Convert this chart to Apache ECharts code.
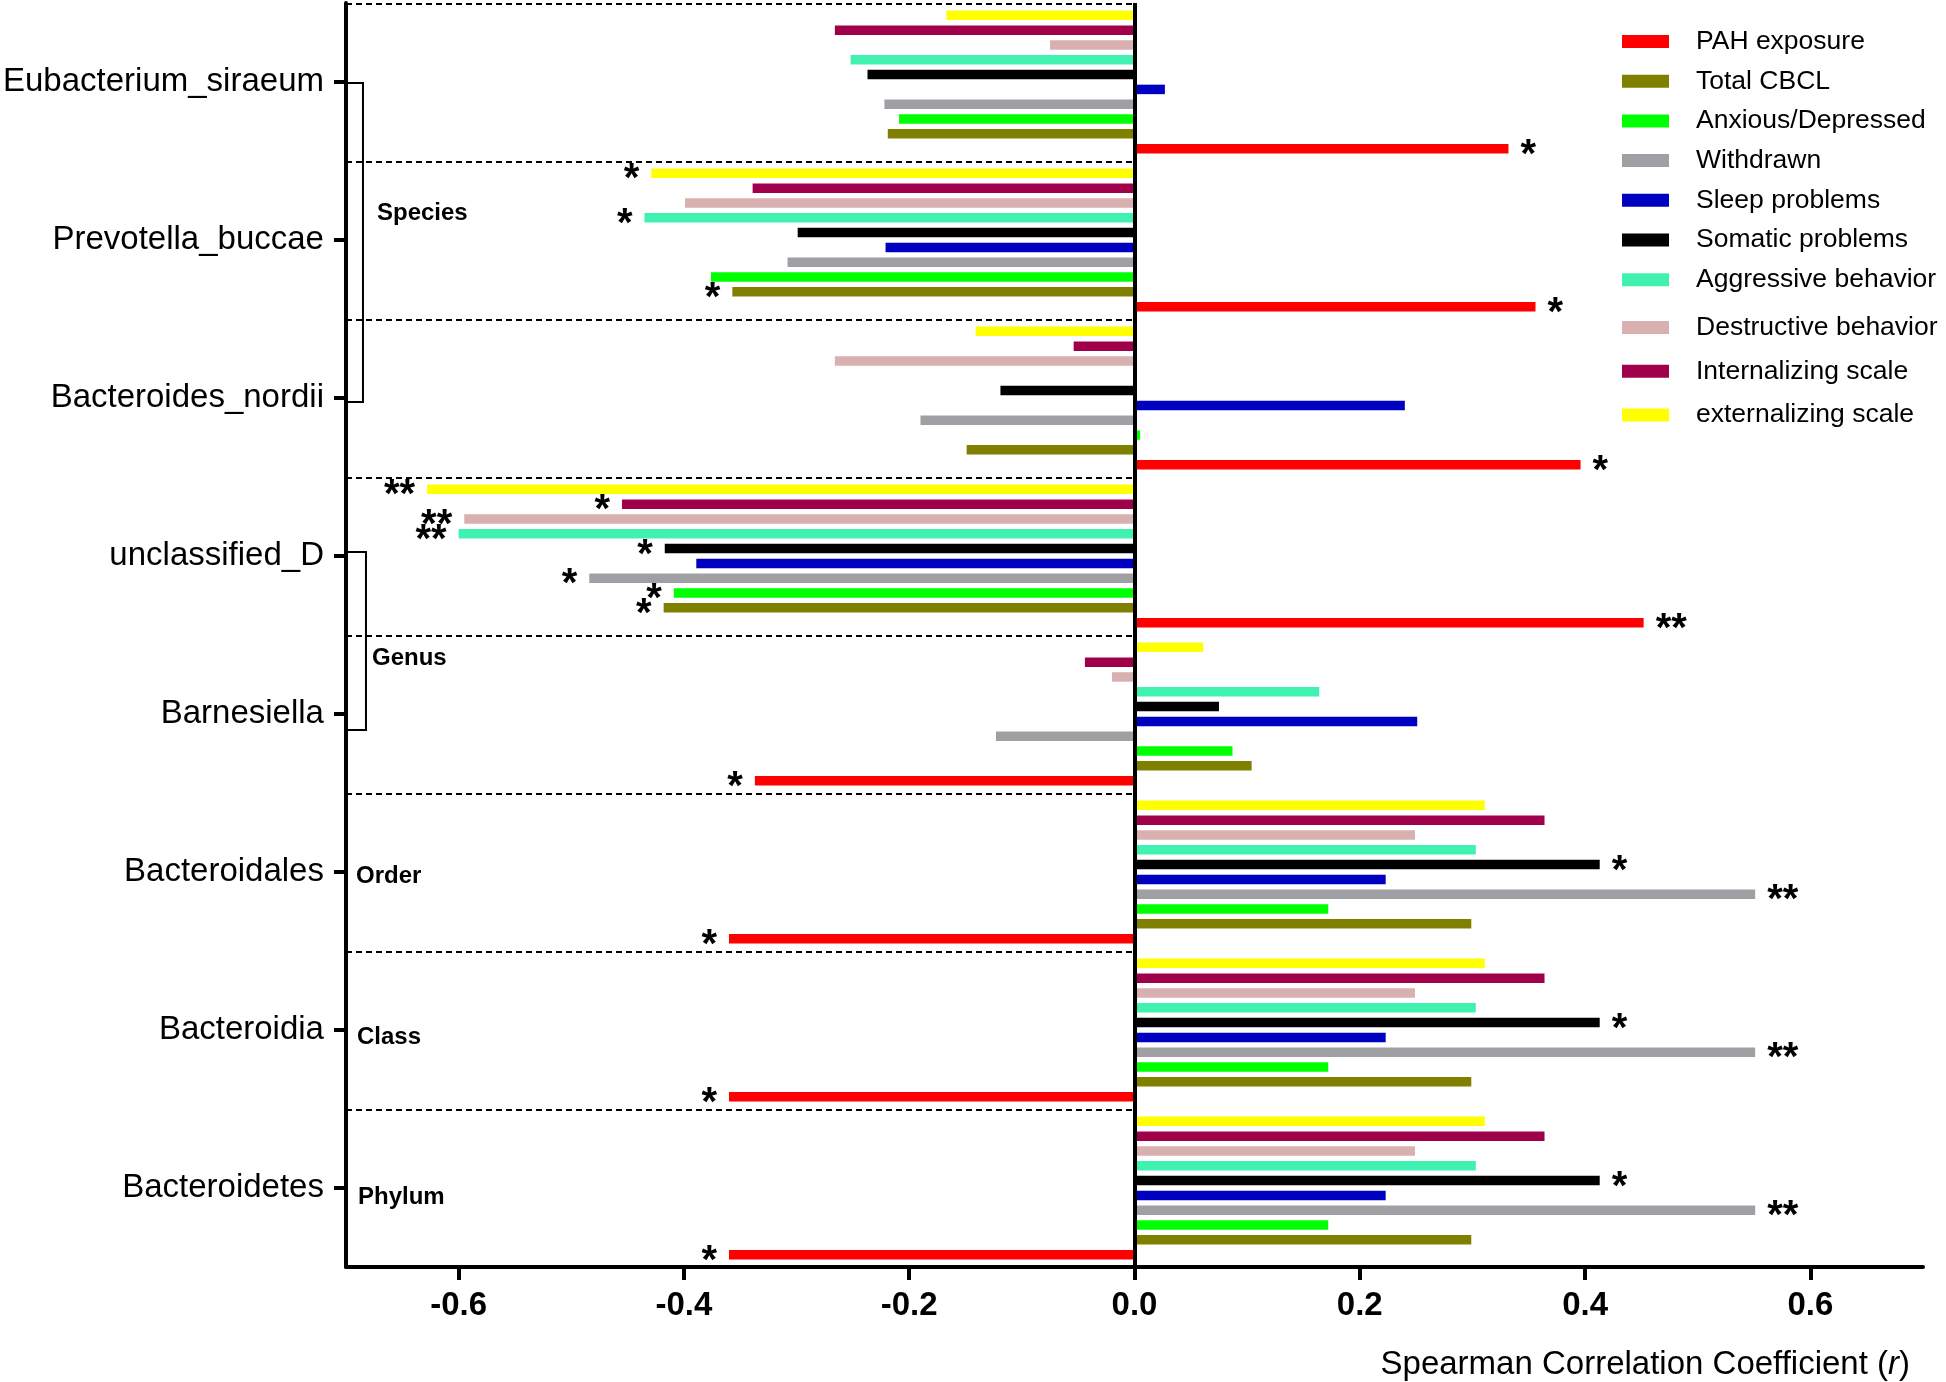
<!DOCTYPE html>
<html><head><meta charset="utf-8">
<script src="https://cdn.jsdelivr.net/npm/echarts@6/dist/echarts.min.js"></script>
<style>html,body{margin:0;padding:0;background:#fff}#c{width:1946px;height:1382px}</style>
</head><body><div id="c"></div>
<script>
// ---------- data ----------
const categories = ['Eubacterium_siraeum','Prevotella_buccae','Bacteroides_nordii','unclassified_D','Barnesiella','Bacteroidales','Bacteroidia','Bacteroidetes'];
const seriesNames = ['PAH exposure','Total CBCL','Anxious/Depressed','Withdrawn','Sleep problems','Somatic problems','Aggressive behavior','Destructive behavior','Internalizing scale','externalizing scale'];
const seriesColors = ['#FF0000','#808000','#00FF00','#A0A0A4','#0000C0','#000000','#40F2B0','#D8B0B0','#A0004A','#FFFF00'];

const pahExposure   = [0.332, 0.356, 0.396, 0.452, -0.337, -0.360, -0.360, -0.360];
const totalCBCL     = [-0.219, -0.357, -0.149, -0.418, 0.104, 0.299, 0.299, 0.299];
const anxious       = [-0.209, -0.376, 0.005, -0.409, 0.087, 0.172, 0.172, 0.172];
const withdrawn     = [-0.222, -0.308, -0.190, -0.484, -0.123, 0.551, 0.551, 0.551];
const sleepProb     = [0.027, -0.221, 0.240, -0.389, 0.251, 0.223, 0.223, 0.223];
const somaticProb   = [-0.237, -0.299, -0.119, -0.417, 0.075, 0.413, 0.413, 0.413];
const aggressive    = [-0.252, -0.435, 0.002, -0.600, 0.164, 0.303, 0.303, 0.303];
const destructive   = [-0.075, -0.399, -0.266, -0.595, -0.020, 0.249, 0.249, 0.249];
const internalizing = [-0.266, -0.339, -0.054, -0.455, -0.044, 0.364, 0.364, 0.364];
const externalizing = [-0.167, -0.429, -0.141, -0.628, 0.061, 0.311, 0.311, 0.311];

const pahStars   = ['*','*','*','**','*','*','*','*'];
const cbclStars  = ['','*','','*','','','',''];
const anxStars   = ['','','','*','','','',''];
const withStars  = ['','','','*','','**','**','**'];
const sleepStars = ['','','','','','','',''];
const somStars   = ['','','','*','','*','*','*'];
const aggStars   = ['','*','','**','','','',''];
const desStars   = ['','','','**','','','',''];
const intStars   = ['','','','*','','','',''];
const extStars   = ['','*','','**','','','',''];

const xTickValues = [-0.6, -0.4, -0.2, 0, 0.2, 0.4, 0.6];
const rankLabels = ['Species','Genus','Order','Class','Phylum'];
const axisTitle = 'Spearman Correlation Coefficient (';
const axisTitleVar = 'r';

const allValues = [pahExposure,totalCBCL,anxious,withdrawn,sleepProb,somaticProb,aggressive,destructive,internalizing,externalizing];
const allStars  = [pahStars,cbclStars,anxStars,withStars,sleepStars,somStars,aggStars,desStars,intStars,extStars];

// ---------- chart ----------
const FONT = 'Liberation Sans, Arial, sans-serif';
const chart = echarts.init(document.getElementById('c'), null, {renderer:'canvas'});

const series = [];
for (let k = seriesNames.length - 1; k >= 0; k--) {
  const vals = allValues[k], stars = allStars[k];
  series.push({
    name: seriesNames[k],
    type: 'bar',
    barWidth: 9.5,
    barGap: '56%',
    itemStyle: {color: seriesColors[k]},
    data: vals.map((v, i) => ({
      value: v,
      label: {
        show: stars[i] !== '',
        formatter: stars[i],
        position: 'outside',
        distance: 12,
        offset: [0, 7],
        fontSize: 40,
        fontWeight: 'bold',
        fontFamily: FONT,
        color: '#000'
      }
    })),
    emphasis: {disabled: true},
    animation: false,
    markLine: k === 0 ? {
      silent: true, symbol: ['none','none'], label: {show:false},
      lineStyle: {color:'#000', width:4, type:'solid'},
      data: [{xAxis: 0}]
    } : undefined
  });
}

const legendCommon = {
  orient: 'vertical', left: 1622, padding: 0,
  itemWidth: 47, itemHeight: 13, icon: 'rect',
  textStyle: {fontSize: 26.5, lineHeight: 26, fontFamily: FONT, color: '#000', padding: [0,0,0,22]},
  selectedMode: false
};

chart.setOption({
  animation: false,
  backgroundColor: '#fff',
  grid: {left: 345, right: 23, top: 3, bottom: 115, containLabel: false},
  title: {
    text: '{a|' + axisTitle + '}{b|' + axisTitleVar + '}{a|)}',
    right: 36, top: 1348, padding: 0,
    textStyle: {
      rich: {
        a: {fontSize: 33, fontFamily: FONT, color: '#000', fontWeight: 'normal'},
        b: {fontSize: 33, fontFamily: FONT, color: '#000', fontStyle: 'italic', fontWeight: 'normal'}
      }
    }
  },
  legend: [
    Object.assign({}, legendCommon, {top: 28, itemGap: 12.7, data: seriesNames.slice(0, 7)}),
    Object.assign({}, legendCommon, {top: 314, itemGap: 16.8, data: seriesNames.slice(7)})
  ],
  xAxis: {
    type: 'value', min: -0.7, max: 0.7,
    axisLine: {show: true, onZero: false, lineStyle: {color:'#000', width:4}},
    axisTick: {show: true, customValues: xTickValues, length: 13, lineStyle: {color:'#000', width:4}},
    axisLabel: {customValues: xTickValues, formatter: v => v.toFixed(1), fontSize: 33, fontWeight: 'bold', fontFamily: FONT, color:'#000', margin: 22},
    splitLine: {show: false}
  },
  yAxis: {
    type: 'category', data: categories, inverse: true,
    axisLine: {show: true, onZero: false, lineStyle: {color:'#000', width:4}},
    axisTick: {show: true, alignWithLabel: true, length: 12, lineStyle: {color:'#000', width:4}},
    axisLabel: {fontSize: 33, fontFamily: FONT, color:'#000', margin: 22},
    splitLine: {show: false}
  },
  series: series
});

// ---------- annotations (positions derived from the axes) ----------
function px(x, cat) { return chart.convertToPixel({xAxisIndex:0, yAxisIndex:0}, [x, cat]); }
const p0 = px(-0.7, 0), p1 = px(-0.7, 1);
const band = p1[1] - p0[1];
const xLeft = p0[0];
const xZero = px(0, 0)[0];
const graphics = [];

// dashed separators at category boundaries
for (let i = 0; i < categories.length; i++) {
  const y = Math.round(px(0, i)[1] - band / 2) + 1;
  graphics.push({type:'line', silent:true, z:5,
    shape:{x1:xLeft, y1:y, x2:xZero, y2:y},
    style:{stroke:'#000', lineWidth:2, lineDash:[6,4]}});
}
// brackets
function bracket(c0, c1, dyTop, dyBot, w) {
  const yA = px(0, c0)[1] + dyTop, yB = px(0, c1)[1] + dyBot;
  graphics.push({type:'polyline', silent:true, z:6,
    shape:{points:[[xLeft, yA],[xLeft + w, yA],[xLeft + w, yB],[xLeft, yB]]},
    style:{stroke:'#000', lineWidth:2, fill:null}});
}
bracket(0, 2, 1, 4, 17);
bracket(3, 4, -4, 16, 20);

// rank labels
const rankPos = [[0, 0.83, 31], [3, 0.645, 26], [5, 0.03, 10], [6, 0.045, 11], [7, 0.06, 12]];
rankLabels.forEach((t, j) => {
  const [c, f, dx] = rankPos[j];
  const y = px(0, c)[1] + f * band;
  graphics.push({type:'text', silent:true, z:7, x: xLeft + dx, y: y,
    style:{text:t, fontSize:24, fontWeight:'bold', fontFamily:FONT, fill:'#000', textVerticalAlign:'middle', textAlign:'left'}});
});

chart.setOption({graphic: graphics});
</script>
</body></html>
